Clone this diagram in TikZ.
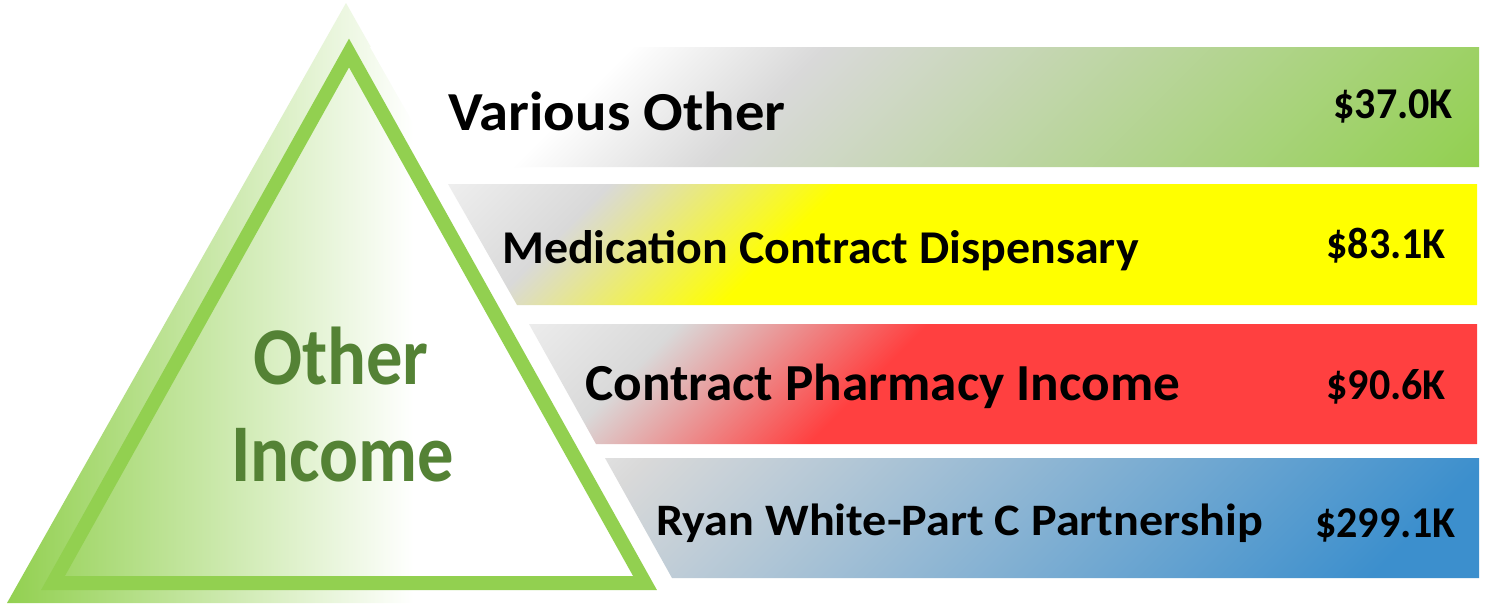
\documentclass[tikz,border=0pt]{standalone}
\usepackage{fontspec}
\setmainfont{Carlito}
\definecolor{tgreen}{HTML}{92D050}
\definecolor{dgreen}{HTML}{548235}
\definecolor{grayA}{HTML}{D9D9D9}
\definecolor{grayB}{HTML}{F2F2F2}
\definecolor{byellow}{HTML}{FFFF00}
\definecolor{bred}{HTML}{FF4040}
\definecolor{bblue}{HTML}{3C8FCD}
\pgfdeclarehorizontalshading{trishade}{100bp}{color(0bp)=(tgreen); color(25bp)=(tgreen); color(55bp)=(white); color(100bp)=(white)}
\pgfdeclarehorizontalshading{barone}{100bp}{color(0bp)=(white); color(41.6bp)=(white); color(46.2bp)=(grayA); color(64.5bp)=(tgreen); color(100bp)=(tgreen)}
\pgfdeclarehorizontalshading{bartwo}{100bp}{color(0bp)=(white); color(35.7bp)=(grayB); color(40.2bp)=(grayA); color(45.7bp)=(byellow); color(100bp)=(byellow)}
\pgfdeclarehorizontalshading{barthree}{100bp}{color(0bp)=(white); color(36.2bp)=(grayB); color(40.9bp)=(grayA); color(46.8bp)=(bred); color(100bp)=(bred)}
\pgfdeclarehorizontalshading{barfour}{100bp}{color(0bp)=(white); color(35.6bp)=(grayB); color(39.2bp)=(grayA); color(59.2bp)=(bblue); color(100bp)=(bblue)}
\begin{document}
\begin{tikzpicture}[x=1pt,y=-1pt,
  lbl/.style={inner sep=0pt, anchor=base west, font=\bfseries, text=black},
  val/.style={inner sep=0pt, anchor=base east, font=\fontsize{44}{50}\selectfont\bfseries, text=black},
  tri/.style={inner sep=0pt, anchor=base, text=dgreen, xscale=0.885, font=\fontsize{82}{98}\selectfont\bfseries}]
\useasboundingbox (0,0) rectangle (1486,603);
\fill[white] (0,0) rectangle (1486,603);
% light triangle
\shade[shading=trishade] (346,3) -- (685,603) -- (7,603) -- cycle;
% green outline triangle
\draw[tgreen, line width=14pt, line join=miter] (349,53) -- (645,583) -- (53,583) -- cycle;
% bars
\begin{scope}
\clip (370,47) -- (1479,47) -- (1479,167) -- (438,167) -- cycle;
\shade[shading=barone, shading angle=-45] (175,-643) rectangle (1675,857);
\end{scope}
\begin{scope}
\clip (448,184) -- (1477,184) -- (1477,305) -- (517,305) -- cycle;
\shade[shading=bartwo, shading angle=-45] (212,-505) rectangle (1712,995);
\end{scope}
\begin{scope}
\clip (529,324) -- (1477,324) -- (1477,444) -- (596,444) -- cycle;
\shade[shading=barthree, shading angle=-45] (253,-366) rectangle (1753,1134);
\end{scope}
\begin{scope}
\clip (605,458) -- (1479,458) -- (1479,578) -- (672,578) -- cycle;
\shade[shading=barfour, shading angle=-45] (292,-232) rectangle (1792,1268);
\end{scope}
% texts
\node[tri] (other) at (341,384) {Other};
\node[tri] (income) at (343,481) {Income};
\node[lbl, xscale=1.067, font=\fontsize{55}{60}\selectfont\bfseries] (t1) at (448,130) {Various Other};
\node[lbl, xscale=1.02, font=\fontsize{47}{52}\selectfont\bfseries] (t2) at (502,263) {Medication Contract Dispensary};
\node[lbl, xscale=1.024, font=\fontsize{52}{56}\selectfont\bfseries] (t3) at (585,400) {Contract Pharmacy Income};
\node[lbl, xscale=1.07, font=\fontsize{45}{50}\selectfont\bfseries] (t4) at (656,535) {Ryan White-Part C Partnership};
\node[val, xscale=0.955] (v1) at (1453,118) {\$37.0K};
\node[val, xscale=0.955] (v2) at (1446,258) {\$83.1K};
\node[val, xscale=0.955] (v3) at (1446,399) {\$90.6K};
\node[val, xscale=0.955] (v4) at (1456,537) {\$299.1K};
\end{tikzpicture}
\end{document}
